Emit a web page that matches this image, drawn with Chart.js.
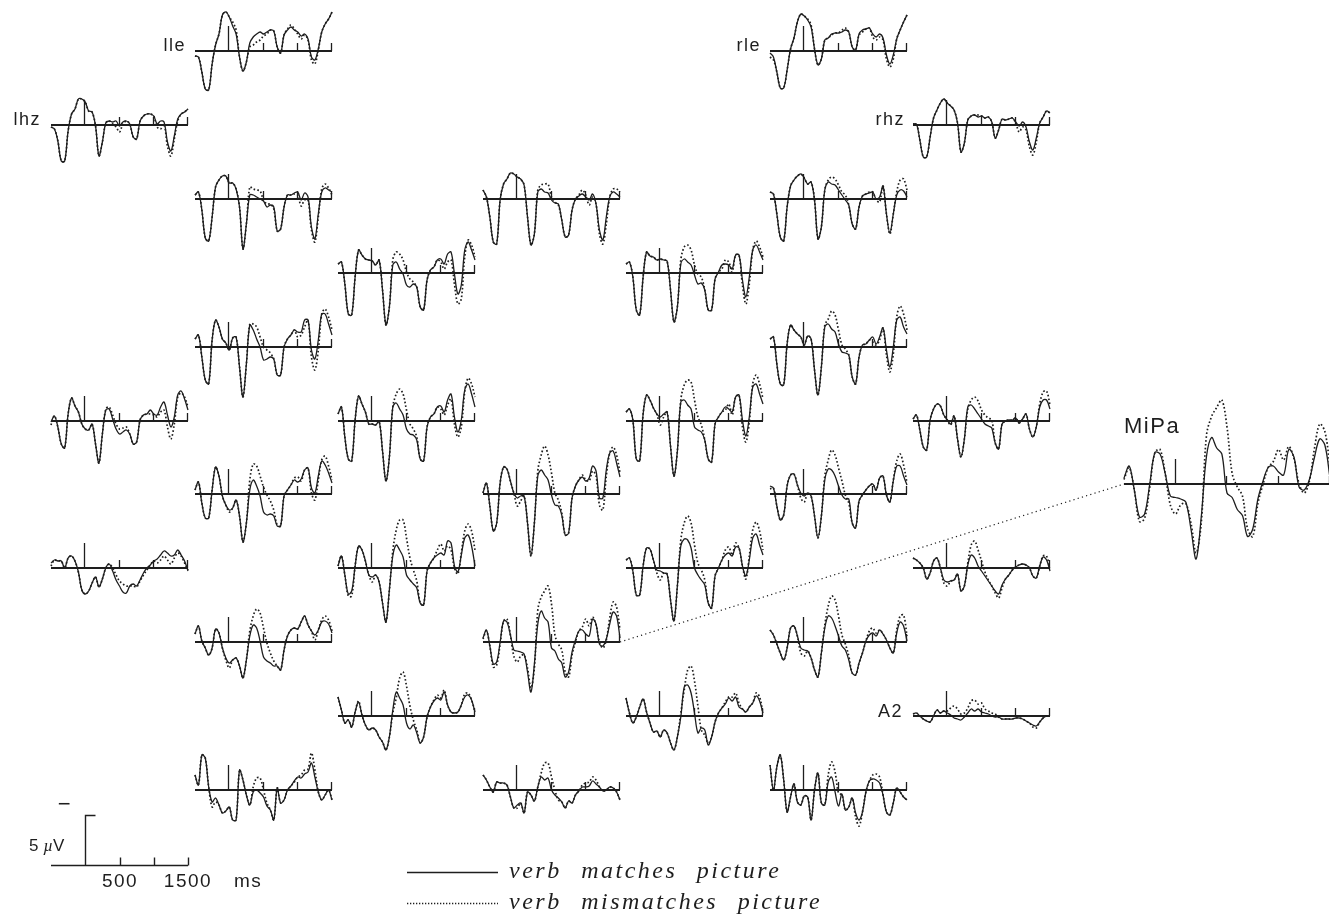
<!DOCTYPE html>
<html>
<head>
<meta charset="utf-8">
<title>ERP: verb matches / mismatches picture</title>
<script src="https://cdn.jsdelivr.net/npm/chart.js@4.4.1/dist/chart.umd.min.js"></script>
<style>
  html, body { margin: 0; padding: 0; background: #fff; }
  #page { position: relative; width: 1329px; height: 914px; overflow: hidden; background: #fff;
          font-family: "Liberation Sans", Arial, Helvetica, sans-serif; color: #1e1e1e; }
  #page canvas { position: absolute; }
  .txt { position: absolute; line-height: 1; white-space: nowrap; }
  .leg { font-family: "Liberation Serif", "DejaVu Serif", serif; font-style: italic; letter-spacing: 2.5px; word-spacing: 11px; }
</style>
</head>
<body>
<div id="page"><canvas id="overlay" width="1329" height="914" style="left:0;top:0"></canvas></div>
<script>
// time axis of every panel (ms), one sample each 50 ms
const timesMs = [-500,-450,-400,-350,-300,-250,-200,-150,-100,-50,0,50,100,150,200,250,300,350,400,450,500,
                 550,600,650,700,750,800,850,900,950,1000,1050,1100,1150,1200,1250,1300,1350,1400,1450,1500];
const tickMs = [0, 500, 1000, 1500];
const scaleBarUv = 5;

// amplitudes in µV (drawn negative up: positive = upward)
const lleMatch    = [-0.5,-0.6,-2.1,-3.8,-3.9,-1.3,0.6,1.7,3.6,3.9,3.4,2.5,1.7,-0.6,-2.0,-1.1,0.8,1.4,1.7,1.9,1.7,1.9,2.1,2.0,0.4,-0.2,1.6,2.1,2.4,2.1,1.9,1.5,1.7,1.2,-0.6,-0.9,0.2,1.9,2.7,3.2,3.9];
const lleMismatch = [-0.5,-0.6,-2.1,-3.8,-3.9,-1.3,0.6,1.7,3.6,3.9,3.4,2.9,2.1,-0.6,-2.0,-1.1,0.4,0.6,0.9,1.1,1.5,1.7,2.1,2.0,0.4,-0.2,1.6,2.2,2.6,2.2,1.7,1.2,1.6,1.1,-0.9,-1.3,0.1,1.9,2.7,3.2,3.9];
const rleMatch    = [-0.2,-0.6,-2.1,-3.7,-3.7,-1.9,0.2,1.3,2.9,3.7,3.5,3.1,2.4,0.2,-1.4,-0.8,1.1,1.3,1.7,1.8,1.8,1.9,2.1,1.9,0.4,0.1,1.7,2.1,2.2,2.3,1.7,1.4,1.7,1.3,-0.4,-1.3,-0.4,1.2,2.1,2.9,3.6];
const rleMismatch = [-0.6,-0.9,-2.1,-3.7,-3.7,-1.9,0.2,1.3,2.9,3.7,3.5,3.2,2.6,0.2,-1.4,-0.8,1.1,1.3,1.6,1.8,1.8,2.1,2.3,1.9,0.4,0.1,1.6,1.9,2.2,2.3,1.4,1.1,1.4,1.1,-0.8,-1.6,-0.8,1.2,2.1,2.9,3.6];
const lhzMatch    = [-0.2,-0.4,-1.6,-3.6,-3.6,-0.6,1.1,1.6,2.6,2.6,2.3,1.4,1.3,-0.1,-3.1,-1.7,0.2,0.4,0.3,0.4,-0.1,0.3,0.4,0.1,-1.2,-1.4,0.4,0.9,1.1,1.1,0.9,0.1,0.4,0.3,-1.7,-2.6,-1.1,0.6,1.1,1.3,1.6];
const lhzMismatch = [-0.2,-0.4,-1.6,-3.6,-3.6,-0.6,1.1,1.6,2.6,2.6,2.3,1.4,1.3,-0.1,-3.1,-1.7,0.2,0.4,0.1,-0.2,-0.7,0.1,0.4,0.1,-1.2,-1.4,0.4,0.9,1.1,1.1,0.9,-0.2,-0.4,0.1,-2.1,-3.1,-1.4,0.4,1.1,1.3,1.6];
const rhzMatch    = [0.1,0.1,-1.5,-3.2,-3.2,-1.2,0.7,1.5,2.2,2.6,2.2,1.9,1.5,0.2,-2.7,-1.8,0.5,0.9,1.0,0.8,0.9,0.7,0.8,0.3,-1.3,-0.5,0.6,0.5,0.6,0.7,0.3,-0.1,0.3,-0.2,-1.7,-2.5,-1.3,0.2,0.8,1.4,1.2];
const rhzMismatch = [0.1,0.1,-1.5,-3.2,-3.2,-1.2,0.7,1.5,2.2,2.6,2.2,1.9,1.5,0.2,-2.7,-1.8,0.5,0.9,1.0,1.0,0.9,0.7,0.8,0.3,-1.3,-0.5,0.6,0.5,0.6,0.7,0.2,-0.7,-0.2,-0.5,-2.2,-3.0,-1.7,0.2,0.8,1.4,1.2];
const s05Match    = [0.4,0.7,-1.1,-3.9,-4.2,-1.8,1.2,1.9,2.3,2.3,1.6,1.6,1.0,-0.8,-5.0,-2.5,0.4,0.4,0.2,0.0,-0.2,-0.8,-0.6,-0.8,-3.2,-3.0,-0.8,0.4,0.4,0.6,0.7,-0.1,0.6,0.2,-2.8,-4.0,-1.5,0.7,1.1,0.9,0.7];
const s05Mismatch = [0.4,0.7,-1.1,-3.9,-4.2,-1.8,1.2,1.9,2.3,2.3,1.6,1.6,1.0,-0.8,-5.0,-2.5,1.2,1.0,0.9,0.8,-0.1,-0.5,-0.5,-1.0,-3.2,-3.0,-0.8,0.4,0.4,0.5,0.4,-0.7,-0.1,-0.1,-3.1,-4.3,-1.8,1.0,1.5,1.1,0.4];
const s06Match    = [0.9,0.2,-1.8,-4.3,-4.5,-0.1,1.5,2.0,2.6,2.5,2.2,2.0,1.4,-1.8,-4.6,-3.5,0.7,1.0,0.7,0.6,-0.1,-0.4,-0.5,-2.1,-3.8,-3.6,-1.1,0.0,0.3,0.5,0.2,-0.1,0.5,-0.5,-3.1,-4.1,-1.8,0.2,0.7,0.5,0.2];
const s06Mismatch = [0.9,0.2,-1.8,-4.3,-4.5,-0.1,1.5,2.0,2.6,2.5,2.2,2.0,1.4,-1.8,-4.6,-3.5,0.9,1.4,1.5,1.5,0.2,-0.3,-0.6,-2.1,-3.8,-3.6,-1.1,0.0,0.4,0.9,0.4,-0.6,0.2,-0.5,-3.5,-4.5,-2.5,0.2,1.0,1.0,0.7];
const s07Match    = [0.7,0.5,-1.5,-3.8,-4.2,-0.8,1.3,1.9,2.3,2.5,2.1,1.5,1.7,-0.1,-4.0,-2.8,0.9,1.7,1.5,1.4,0.9,0.4,-0.1,-0.6,-2.5,-3.0,-0.8,0.3,0.5,0.6,0.7,0.0,0.2,1.3,-1.5,-3.4,-1.5,0.4,0.9,0.8,0.2];
const s07Mismatch = [0.7,0.5,-1.5,-3.8,-4.2,-0.8,1.3,1.9,2.3,2.5,2.1,1.5,1.7,-0.1,-4.0,-2.8,0.9,1.9,2.2,2.0,1.4,0.7,0.4,-0.6,-2.5,-3.0,-0.8,0.3,0.5,0.7,0.7,-0.1,-0.3,1.3,-1.5,-3.5,-1.5,0.7,1.9,2.0,0.9];
const s08Match    = [0.9,1.1,-1.1,-4.1,-4.2,-0.4,2.3,1.8,1.4,1.3,1.2,0.8,1.3,-1.7,-5.2,-3.4,0.8,1.1,0.4,-0.1,-1.2,-1.4,-1.1,-1.4,-3.4,-3.7,-0.7,0.3,0.6,1.3,1.4,0.9,1.9,2.1,-0.1,-2.1,-1.2,2.3,3.1,2.3,1.3];
const s08Mismatch = [0.9,1.1,-1.1,-4.1,-4.2,-0.4,2.3,1.8,1.4,1.3,1.2,0.8,1.3,-1.7,-5.2,-3.4,1.3,2.1,1.9,1.3,0.1,-0.6,-0.9,-1.4,-3.4,-3.7,-0.7,0.3,0.6,1.3,1.1,0.4,1.1,1.3,-1.1,-3.1,-2.6,1.6,3.3,2.8,1.6];
const s09Match    = [0.9,1.1,-0.4,-3.7,-4.2,-0.4,2.1,1.7,1.6,1.3,1.4,1.3,1.2,-1.7,-4.9,-3.4,0.9,1.4,1.1,0.8,-0.2,-1.1,-1.0,-1.7,-3.7,-3.7,-0.6,0.1,0.8,0.9,0.8,0.4,1.8,1.8,-0.7,-2.4,-0.4,2.3,2.8,2.1,1.3];
const s09Mismatch = [0.9,1.1,-0.4,-3.7,-4.2,-0.4,2.1,1.7,1.6,1.3,1.4,1.3,1.2,-1.7,-4.9,-3.4,1.3,2.6,2.8,2.3,0.8,-0.1,-0.4,-1.7,-3.7,-3.7,-0.6,0.1,0.4,1.3,1.1,0.1,1.8,1.8,-1.2,-3.1,-1.1,2.3,3.2,2.6,1.6];
const s10Match    = [0.8,1.2,-1.0,-3.3,-3.7,0.7,2.7,2.0,0.8,0.4,-0.3,0.9,1.0,-2.0,-5.0,-1.7,2.2,1.7,0.8,0.0,-1.3,-1.2,-1.0,-1.2,-2.8,-2.8,0.0,0.8,1.2,1.7,1.5,1.5,2.7,2.7,-0.3,-1.2,0.7,3.3,3.3,2.3,1.2];
const s10Mismatch = [0.8,1.2,-1.0,-3.3,-3.7,0.7,2.7,2.0,0.8,0.4,-0.3,0.9,1.0,-2.0,-5.0,-1.7,2.3,2.3,2.0,1.0,0.0,-0.3,-0.6,-1.2,-2.8,-2.8,0.0,0.8,1.2,1.7,1.0,1.2,2.0,2.7,-1.0,-2.3,-0.3,3.3,3.8,3.0,1.7];
const s11Match    = [0.8,1.0,-1.7,-3.7,-3.8,0.3,2.2,1.7,1.3,1.0,0.2,1.1,0.8,-2.3,-4.8,-2.0,2.0,2.3,1.8,1.5,0.3,-0.5,-0.6,-0.8,-3.0,-3.7,-1.0,0.2,0.3,0.7,1.0,0.3,1.0,1.9,-0.3,-2.0,0.0,2.7,3.0,2.0,1.3];
const s11Mismatch = [0.8,1.0,-1.7,-3.7,-3.8,0.3,2.2,1.7,1.3,1.0,0.2,1.1,0.8,-2.3,-4.8,-2.0,2.2,2.8,3.6,3.2,1.7,0.2,-0.2,-0.8,-3.0,-3.7,-1.0,0.2,0.3,0.7,0.5,0.2,0.7,1.9,-0.8,-2.5,-0.7,3.0,4.1,3.3,1.7];
const s12Match    = [-0.1,0.5,-0.6,-2.3,-2.7,0.7,2.3,1.5,0.9,-0.3,-0.8,-0.9,-0.3,-2.3,-4.2,-1.3,1.1,1.2,0.2,-0.8,-1.3,-1.1,-0.9,-1.3,-2.3,-2.1,0.1,0.6,0.7,1.1,0.7,0.6,1.4,1.9,0.6,-0.6,0.4,2.6,3.0,2.2,1.1];
const s12Mismatch = [-0.4,0.5,-0.6,-2.3,-2.7,0.7,2.3,1.5,0.9,-0.3,-0.8,-0.9,-0.3,-2.3,-4.2,-1.3,1.2,1.4,0.6,-0.3,-0.8,-0.7,-0.6,-1.3,-2.3,-2.1,0.1,0.6,0.7,0.7,0.6,0.4,0.9,1.1,-0.6,-1.8,-0.3,2.4,2.8,2.4,1.4];
const s13Match    = [0.7,1.4,-1.6,-3.8,-4.0,0.1,2.5,1.7,0.9,-0.3,-0.3,-0.4,0.0,-3.0,-6.0,-3.6,1.4,1.8,1.2,0.6,-0.8,-1.3,-1.4,-1.9,-3.8,-4.0,-0.6,0.4,0.7,1.4,1.5,0.9,2.1,2.7,0.4,-1.1,0.1,3.1,3.7,2.7,1.4];
const s13Mismatch = [0.7,1.4,-1.6,-3.8,-4.0,0.1,2.5,1.7,0.9,-0.3,-0.3,-0.4,0.0,-3.0,-6.0,-3.6,1.4,2.7,3.2,2.7,1.1,-0.3,-0.8,-1.6,-3.8,-4.0,-0.6,0.4,0.7,1.4,1.2,0.6,1.6,2.2,-0.3,-1.6,-0.6,2.9,4.3,3.7,2.4];
const s14Match    = [0.9,1.2,0.1,-3.8,-4.0,0.7,2.6,2.1,1.3,0.7,0.4,0.7,0.9,-2.5,-5.5,-3.0,1.9,2.1,1.6,1.2,-0.6,-0.9,-1.1,-1.9,-3.8,-4.1,-0.3,0.4,0.9,1.4,1.2,0.9,2.4,2.6,0.1,-1.5,0.4,3.4,3.7,2.7,1.7];
const s14Mismatch = [0.9,1.2,0.1,-3.8,-4.0,0.7,2.6,2.1,1.3,0.7,-0.4,0.4,0.9,-2.5,-5.5,-3.0,2.1,3.6,4.1,3.9,2.1,0.4,-0.4,-1.9,-3.8,-4.1,-0.3,0.4,0.9,1.1,1.7,0.6,2.4,2.6,-0.6,-2.1,-0.1,3.7,4.6,3.7,2.2];
const s15Match    = [0.2,0.6,-0.9,-2.6,-2.9,0.1,1.2,1.7,1.5,0.6,0.1,-0.3,0.5,-1.8,-3.6,-1.8,1.4,1.6,1.2,0.7,0.2,-0.3,-0.5,-0.7,-2.2,-2.8,-0.3,0.0,0.1,0.1,0.3,-0.2,0.2,0.7,-0.8,-1.6,-0.6,1.4,2.1,2.1,1.2];
const s15Mismatch = [0.2,0.6,-0.9,-2.6,-2.9,0.1,1.2,1.7,1.5,0.6,0.1,-0.4,0.5,-1.8,-3.6,-1.8,1.2,2.1,2.4,2.0,1.1,0.6,0.3,0.1,-2.2,-2.8,-0.3,0.0,0.1,0.1,0.3,-0.2,0.2,0.7,-0.8,-1.6,-0.6,1.7,2.9,3.0,1.6];
const s16Match    = [0.4,1.2,-0.9,-2.4,-2.4,0.4,2.7,1.8,-0.2,-1.1,-1.6,-1.4,-0.6,-2.2,-4.8,-2.9,0.4,1.4,0.8,-0.2,-1.8,-2.1,-2.0,-2.2,-3.2,-3.2,-0.2,0.4,0.9,1.4,1.2,1.5,2.4,2.6,0.6,0.1,1.8,3.3,2.9,2.1,1.1];
const s16Mismatch = [0.4,1.2,-0.9,-2.4,-2.4,0.4,2.7,1.8,-0.2,-1.1,-1.8,-1.4,-0.6,-2.2,-4.8,-2.9,1.4,3.0,2.8,1.8,0.7,-0.1,-0.7,-1.6,-3.1,-3.2,-0.2,0.4,0.9,1.6,1.7,1.3,2.4,2.6,0.1,-0.6,1.4,3.4,3.8,2.8,1.4];
const s17Match    = [0.1,1.1,-1.2,-3.7,-2.9,1.1,2.7,2.5,1.3,0.1,-0.4,-0.2,-0.2,-2.9,-6.2,-2.9,1.8,2.4,1.9,1.4,-0.1,-1.1,-1.2,-2.1,-4.1,-3.9,-0.4,0.8,1.4,1.7,1.3,1.6,2.8,2.3,-0.4,-0.4,2.4,4.1,4.3,3.1,1.7];
const s17Mismatch = [0.1,1.1,-1.2,-3.7,-2.9,1.1,2.7,2.5,1.3,0.1,-1.2,-0.7,-0.2,-2.9,-6.2,-2.9,2.3,3.9,4.8,3.9,2.1,0.1,-0.6,-1.9,-4.1,-3.9,-0.4,0.8,1.4,1.9,1.4,1.3,2.3,1.8,-1.1,-1.6,1.8,4.1,4.7,3.9,2.1];
const s18Match    = [0.8,0.6,-1.2,-2.6,-2.1,0.8,1.9,2.0,0.9,0.1,-0.2,0.1,-0.2,-2.2,-4.4,-2.2,1.4,2.5,2.4,1.8,0.8,-0.1,-0.5,-0.5,-2.9,-3.4,-0.7,-0.1,0.4,0.8,1.0,0.4,1.6,1.8,-0.1,-0.8,1.3,2.8,2.8,1.8,0.9];
const s18Mismatch = [0.5,0.6,-1.2,-2.6,-2.1,0.8,1.9,2.0,0.9,-0.4,-0.8,0.1,-0.2,-2.2,-4.4,-2.2,1.8,3.4,4.4,3.9,2.6,1.3,-0.1,-0.9,-2.9,-3.4,-0.7,-0.1,0.4,0.8,1.0,0.4,1.6,1.8,-0.1,-0.8,1.4,3.3,4.0,2.9,1.1];
const s19Match    = [0.5,0.8,0.7,0.7,0.0,1.0,1.2,0.7,-0.4,-2.2,-2.6,-2.3,-1.5,-0.9,-1.9,-1.1,0.0,0.4,-0.3,-1.2,-1.8,-2.4,-2.5,-1.8,-1.6,-1.8,-1.2,-0.5,0.0,0.3,0.7,0.9,1.3,1.7,1.5,1.2,1.3,1.8,1.3,0.7,-0.3];
const s19Mismatch = [0.2,0.8,0.7,0.7,0.0,1.0,1.2,0.7,-0.4,-2.2,-2.6,-2.3,-1.5,-0.9,-1.9,-1.1,0.0,0.4,0.0,-0.7,-1.3,-1.6,-1.8,-1.8,-1.8,-1.9,-1.3,-0.7,-0.2,0.3,0.7,0.5,0.8,1.2,0.8,0.4,1.0,1.5,1.2,0.5,-0.2];
const s20Match    = [0.2,1.2,-0.7,-2.6,-2.3,0.2,2.2,1.8,0.7,-0.7,-0.9,-0.7,-1.4,-3.5,-5.4,-2.2,1.2,2.3,1.8,1.1,-0.7,-1.2,-1.6,-2.0,-3.5,-3.7,-0.3,0.5,1.0,1.3,1.5,1.3,2.7,2.5,0.2,-0.4,1.3,3.0,3.3,2.2,0.2];
const s20Mismatch = [0.2,1.2,-0.7,-2.8,-2.8,0.2,2.2,1.8,0.7,-0.7,-1.4,-0.7,-1.4,-3.5,-5.4,-2.2,1.7,3.8,4.8,4.8,3.0,1.0,-0.2,-1.3,-3.5,-3.7,-0.3,0.5,1.0,1.8,2.4,1.7,2.2,1.8,0.0,-0.6,1.5,3.7,4.4,3.7,1.8];
const s21Match    = [0.8,1.0,-0.3,-2.7,-2.7,0.2,2.0,1.9,0.8,-0.2,-0.3,-0.5,-0.6,-3.2,-5.3,-1.8,2.2,2.9,2.8,2.0,0.0,-0.7,-1.2,-1.7,-3.5,-4.0,-0.8,0.0,0.8,1.3,1.5,1.2,2.1,2.0,0.2,-0.8,0.8,3.0,3.4,2.3,1.3];
const s21Mismatch = [0.8,1.0,-0.3,-2.7,-2.7,0.2,2.0,1.9,0.8,-0.5,-1.2,-0.5,-0.6,-3.2,-5.3,-1.8,2.8,4.5,5.2,4.5,2.3,0.5,-0.2,-1.2,-3.5,-4.0,-0.8,0.0,0.8,1.8,2.1,1.3,2.5,2.0,0.2,-1.1,1.2,3.8,4.6,3.7,1.8];
const s22Match    = [1.0,0.8,0.5,0.0,-1.1,-0.5,0.7,1.0,0.0,-1.2,-1.4,-1.3,-1.2,-0.6,-2.3,-1.8,0.3,1.3,1.0,0.2,-0.3,-0.8,-1.3,-1.8,-2.3,-2.6,-1.7,-1.1,-0.7,-0.2,0.1,0.3,0.4,0.3,0.0,-0.8,-1.0,0.2,1.1,0.8,-0.3];
const s22Mismatch = [1.0,0.8,0.5,0.0,-1.1,-0.5,0.7,1.0,0.0,-1.5,-1.8,-1.3,-1.2,-0.6,-2.3,-1.8,0.5,2.3,2.7,1.8,0.7,-0.4,-1.2,-1.8,-2.5,-3.0,-2.0,-1.1,-0.7,-0.2,0.1,0.3,0.4,0.3,0.0,-0.8,-1.0,0.2,1.2,1.2,-0.3];
const s23Match    = [0.8,1.6,0.1,-0.6,-1.3,-0.6,1.3,0.9,-0.6,-1.6,-2.1,-1.8,-1.6,-2.4,-3.6,-1.8,0.6,1.7,1.4,0.1,-1.5,-1.9,-2.1,-2.4,-2.4,-2.8,-0.8,0.6,1.2,1.4,1.3,2.0,2.6,1.7,1.1,0.7,1.2,2.0,2.1,1.8,0.9];
const s23Mismatch = [0.8,1.6,0.1,-0.6,-1.3,-0.6,1.3,0.9,-0.6,-1.8,-2.6,-1.8,-1.6,-2.4,-3.6,-1.8,1.1,2.6,3.3,2.9,1.4,-0.1,-1.1,-1.9,-2.4,-2.8,-0.8,0.6,1.2,1.4,1.3,2.0,2.6,1.7,1.1,0.2,1.2,2.2,2.6,2.2,1.1];
const miPaMatch    = [0.4,1.2,-0.4,-2.2,-2.0,0.0,2.1,2.0,0.7,-0.8,-0.9,-1.0,-1.2,-3.0,-5.0,-2.2,1.8,3.1,2.4,2.0,-0.6,-0.9,-1.7,-2.1,-3.5,-3.0,-1.0,0.2,1.1,1.2,0.8,0.6,2.3,1.8,-0.2,-0.4,0.3,1.8,3.0,2.6,0.4];
const miPaMismatch = [0.3,1.1,-0.4,-2.5,-2.3,-0.2,2.1,2.3,0.7,-1.4,-2.0,-1.4,-1.3,-2.6,-4.6,-2.6,3.2,4.5,5.1,5.6,3.8,0.7,-0.2,-0.8,-3.0,-3.5,-1.3,0.0,1.1,1.5,2.3,1.6,2.5,1.7,0.0,-0.6,0.2,2.4,4.0,3.5,1.2];
const s25Match    = [1.2,0.7,-0.2,-1.1,-1.8,-0.6,1.4,1.6,0.6,-0.6,-0.8,-0.9,-1.6,-2.8,-3.5,-1.1,1.4,2.6,2.4,1.6,0.6,-0.4,-0.8,-1.8,-3.1,-3.3,-2.1,-1.1,0.1,0.7,0.9,0.6,1.2,0.8,0.2,-0.6,-1.1,0.9,2.0,1.6,0.1];
const s25Mismatch = [1.2,0.7,-0.2,-1.1,-1.8,-0.6,1.4,1.6,0.6,-1.1,-1.4,-0.9,-1.6,-2.8,-3.5,-1.1,1.7,3.6,4.6,4.2,2.6,0.7,-0.2,-1.4,-3.1,-3.3,-2.1,-1.1,0.1,1.1,1.4,0.9,1.2,0.8,0.2,-0.6,-1.1,1.2,2.6,2.7,0.6];
const s26Match    = [1.9,0.6,-0.7,-0.4,-1.1,0.4,1.4,0.1,-0.9,-1.4,-1.2,-1.4,-2.1,-2.6,-3.4,-2.1,0.6,2.4,1.8,1.1,-0.7,-1.3,-0.9,-1.7,-2.7,-2.1,-0.1,0.9,1.5,1.8,1.6,2.4,1.1,0.4,0.3,0.4,1.1,1.9,2.1,1.6,0.4];
const s26Mismatch = [1.9,0.6,-0.7,-0.4,-1.1,0.4,1.5,0.1,-0.9,-1.4,-1.2,-1.4,-2.1,-2.6,-3.4,-2.1,0.3,1.8,3.8,4.4,3.0,1.0,-0.4,-1.4,-2.7,-2.1,-0.1,0.9,1.6,2.1,1.8,2.6,1.1,0.4,0.3,0.4,1.1,2.2,2.3,1.6,0.4];
const s27Match    = [1.8,0.3,-0.7,-0.1,0.9,1.7,0.4,-0.7,-1.6,-1.5,-2.1,-1.4,-1.7,-2.7,-3.4,-2.1,-0.1,2.9,3.1,2.3,0.3,-1.7,-1.2,-1.4,-2.9,-2.1,-0.6,0.3,0.8,1.2,1.8,1.5,1.9,0.9,0.7,0.4,0.9,1.3,2.0,1.5,0.3];
const s27Mismatch = [1.8,0.3,-0.7,-0.1,0.9,1.7,0.4,-0.7,-1.6,-1.5,-2.1,-1.4,-1.7,-2.7,-3.4,-2.1,0.3,2.6,4.6,5.0,3.5,1.0,-1.4,-1.9,-2.7,-2.1,-0.6,0.3,0.8,1.4,1.9,1.9,2.3,1.3,0.7,0.4,0.9,1.3,2.3,1.9,0.3];
const a2Match     = [0.2,0.3,0.0,-0.3,-0.5,-0.6,0.0,0.6,0.3,0.5,0.3,0.1,-0.2,-0.3,-0.4,-0.1,0.3,0.7,0.5,0.7,0.4,0.3,0.2,0.0,-0.1,-0.1,-0.3,-0.3,-0.3,-0.3,-0.2,-0.2,-0.3,-0.5,-0.7,-0.9,-1.0,-0.6,-0.2,0.0,0.0];
const a2Mismatch  = [0.2,0.3,0.0,-0.3,-0.5,-0.6,0.0,0.6,0.3,0.5,0.5,0.8,1.0,0.7,0.2,0.3,0.8,1.5,1.6,1.2,1.3,0.7,0.5,0.3,0.2,-0.1,-0.3,-0.3,-0.3,-0.3,-0.2,-0.2,-0.3,-0.5,-0.7,-1.1,-1.2,-0.6,-0.2,0.0,0.0];
const s29Match    = [1.5,0.5,3.5,3.2,0.3,-1.2,-0.8,-1.5,-2.3,-2.1,-1.7,-3.0,-3.0,2.0,1.0,-0.5,-1.5,-0.2,0.0,-0.3,-0.7,-1.6,-2.0,-3.0,0.2,-1.3,-1.0,0.0,0.4,0.9,1.3,1.2,1.6,1.8,2.7,1.3,-0.2,-1.0,-0.5,0.0,-1.0];
const s29Mismatch = [1.5,0.5,3.5,3.2,0.3,-1.7,-1.2,-1.5,-2.3,-2.1,-1.7,-3.0,-3.0,2.0,1.0,-0.5,-1.5,0.3,1.2,1.2,0.0,-1.3,-2.0,-3.0,0.2,-1.3,-1.0,0.0,0.4,0.8,1.3,1.5,2.0,2.1,3.7,2.0,-0.2,-1.0,-0.5,0.0,-1.0];
const s30Match    = [1.5,1.0,0.3,-0.2,0.8,0.7,0.7,0.5,-0.7,-1.8,-1.5,-1.3,-2.3,-0.2,-0.5,-1.1,0.3,1.3,1.0,1.2,0.0,-0.5,-0.8,-1.2,-1.8,-1.1,-1.3,-0.5,-0.1,0.3,0.3,0.4,0.9,0.6,0.3,-0.1,0.0,0.3,0.2,-0.2,-1.0];
const s30Mismatch = [1.5,1.0,0.3,-0.2,0.8,0.7,0.7,0.5,-0.7,-1.8,-1.8,-1.3,-2.3,-0.2,-0.5,-1.1,0.3,1.7,2.7,2.7,1.3,0.0,-1.0,-1.2,-1.8,-1.1,-1.3,-0.5,-0.1,0.5,0.7,0.8,1.3,1.0,0.3,-0.1,0.0,0.3,0.2,-0.2,-1.0];
const s31Match    = [2.5,0.0,2.3,3.5,1.0,-2.2,-0.7,0.6,-1.2,-1.5,-0.6,-0.7,-3.0,0.0,1.7,-1.3,-1.5,0.8,1.3,-0.2,-1.6,-0.4,-2.0,-1.7,-0.8,-2.3,-3.0,-2.2,-0.2,0.9,1.1,1.0,0.7,-0.5,-2.2,-2.5,-1.3,0.2,-0.2,-0.7,-1.0];
const s31Mismatch = [2.5,0.0,2.3,3.5,1.0,-2.2,-0.7,0.6,-1.2,-1.5,-0.6,-0.7,-3.0,0.0,1.7,-1.3,-1.5,1.5,2.8,1.8,-0.3,-0.5,-2.0,-1.7,-0.8,-2.7,-3.6,-2.2,-0.2,0.9,1.5,1.6,1.3,-0.5,-2.2,-2.5,-1.3,0.2,-0.2,-0.7,-1.0];

// where each electrode sits on the page (left edge of the -500 ms point, baseline y)
const panelLayout = [
    { match: lleMatch, mismatch: lleMismatch, left: 195, base: 51 },
    { match: rleMatch, mismatch: rleMismatch, left: 770, base: 51 },
    { match: lhzMatch, mismatch: lhzMismatch, left: 51,  base: 125 },
    { match: rhzMatch, mismatch: rhzMismatch, left: 913, base: 125 },
    { match: s05Match, mismatch: s05Mismatch, left: 195, base: 199 },
    { match: s06Match, mismatch: s06Mismatch, left: 483, base: 199 },
    { match: s07Match, mismatch: s07Mismatch, left: 770, base: 199 },
    { match: s08Match, mismatch: s08Mismatch, left: 338, base: 273 },
    { match: s09Match, mismatch: s09Mismatch, left: 626, base: 273 },
    { match: s10Match, mismatch: s10Mismatch, left: 195, base: 347 },
    { match: s11Match, mismatch: s11Mismatch, left: 770, base: 347 },
    { match: s12Match, mismatch: s12Mismatch, left: 51,  base: 421 },
    { match: s13Match, mismatch: s13Mismatch, left: 338, base: 421 },
    { match: s14Match, mismatch: s14Mismatch, left: 626, base: 421 },
    { match: s15Match, mismatch: s15Mismatch, left: 913, base: 421 },
    { match: s16Match, mismatch: s16Mismatch, left: 195, base: 494 },
    { match: s17Match, mismatch: s17Mismatch, left: 483, base: 494 },
    { match: s18Match, mismatch: s18Mismatch, left: 770, base: 494 },
    { match: s19Match, mismatch: s19Mismatch, left: 51,  base: 568 },
    { match: s20Match, mismatch: s20Mismatch, left: 338, base: 568 },
    { match: s21Match, mismatch: s21Mismatch, left: 626, base: 568 },
    { match: s22Match, mismatch: s22Mismatch, left: 913, base: 568 },
    { match: s23Match, mismatch: s23Mismatch, left: 195, base: 642 },
    { match: miPaMatch, mismatch: miPaMismatch, left: 483, base: 642, source: true },
    { match: s25Match, mismatch: s25Mismatch, left: 770, base: 642 },
    { match: s26Match, mismatch: s26Mismatch, left: 338, base: 716 },
    { match: s27Match, mismatch: s27Mismatch, left: 626, base: 716 },
    { match: a2Match,  mismatch: a2Mismatch,  left: 913, base: 716 },
    { match: s29Match, mismatch: s29Mismatch, left: 195, base: 790 },
    { match: s30Match, mismatch: s30Mismatch, left: 483, base: 790 },
    { match: s31Match, mismatch: s31Mismatch, left: 770, base: 790 }
];
const miPaLayout = { match: miPaMatch, mismatch: miPaMismatch, left: 1124, base: 484, scale: 1.5 };

const textLabels = [
    { text: 'lle',  x: 186,  y: 51,  size: 18, align: 'right' },
    { text: 'rle',  x: 761,  y: 51,  size: 18, align: 'right' },
    { text: 'lhz',  x: 41,   y: 125, size: 18, align: 'right' },
    { text: 'rhz',  x: 905,  y: 125, size: 18, align: 'right' },
    { text: 'A2',   x: 903,  y: 717, size: 18, align: 'right' },
    { text: 'MiPa', x: 1124, y: 434, size: 22, align: 'left' },
    { text: '500',  x: 120,  y: 887, size: 19, align: 'center' },
    { text: '1500', x: 188,  y: 887, size: 19, align: 'center' },
    { text: 'ms',   x: 234,  y: 887, size: 19, align: 'left' },
    { text: '\u2212', x: 65, y: 812, size: 22, align: 'center' }
];

const ink = '#1e1e1e';
const page = document.getElementById('page');

// baseline + stimulus-onset tick + 500 ms ticks
const erpAxes = {
    id: 'erpAxes',
    beforeDatasetsDraw(chart, args, opts) {
        const ctx = chart.ctx;
        const x = chart.scales.x, y = chart.scales.y;
        const y0 = Math.round(y.getPixelForValue(0));
        ctx.save();
        ctx.strokeStyle = ink;
        ctx.lineWidth = 2;
        ctx.beginPath();
        ctx.moveTo(x.getPixelForValue(timesMs[0]), y0);
        ctx.lineTo(x.getPixelForValue(timesMs[timesMs.length - 1]), y0);
        ctx.stroke();
        ctx.lineWidth = 1.3;
        tickMs.forEach(t => {
            const px = Math.round(x.getPixelForValue(t)) - 0.5;
            ctx.beginPath();
            ctx.moveTo(px, y0);
            ctx.lineTo(px, y0 - (t === 0 ? opts.onsetLen : opts.tickLen));
            ctx.stroke();
        });
        ctx.restore();
    }
};

function makePanel(p) {
    const scale = p.scale || 1;
    const pxPerUv = 10 * scale;
    const up = p.scale ? 6.6 : 6.5, down = p.scale ? 6.0 : 7.0;
    const pad = 4;
    const canvas = document.createElement('canvas');
    canvas.width = Math.round(137 * scale) + 2 * pad;
    canvas.height = Math.round((up + down) * pxPerUv);
    canvas.style.left = (p.left - pad) + 'px';
    canvas.style.top = (p.base - up * pxPerUv) + 'px';
    page.appendChild(canvas);

    new Chart(canvas, {
        type: 'line',
        data: {
            datasets: [{
                label: 'verb matches picture',
                data: timesMs.map((t, i) => ({ x: t, y: p.match[i] })),
                borderColor: ink,
                borderWidth: 1.3,
                pointRadius: 0,
                tension: 0.35,
                clip: false
            }, {
                label: 'verb mismatches picture',
                data: timesMs.map((t, i) => ({ x: t, y: p.mismatch[i] })),
                borderColor: ink,
                borderWidth: 1.7,
                borderDash: [1.6, 2.2],
                pointRadius: 0,
                tension: 0.35,
                clip: false
            }]
        },
        options: {
            responsive: false,
            animation: false,
            devicePixelRatio: 1,
            events: [],
            layout: { padding: { left: pad, right: pad, top: 0, bottom: 0 } },
            scales: {
                x: { type: 'linear', min: -500, max: 1500, display: false },
                y: { type: 'linear', min: -down, max: up, display: false }
            },
            plugins: {
                legend: { display: false },
                tooltip: { enabled: false },
                erpAxes: { onsetLen: 25, tickLen: 8 }
            }
        },
        plugins: [erpAxes]
    });
}

panelLayout.forEach(p => {
    if (p.match.length !== timesMs.length || p.mismatch.length !== timesMs.length) {
        console.error('length mismatch', p);
    }
    makePanel(p);
});
makePanel(miPaLayout);

// calibration bar: -500..1500 ms axis and 5 µV
const scaleBar = {
    id: 'scaleBar',
    afterDraw(chart) {
        const ctx = chart.ctx;
        const x = chart.scales.x, y = chart.scales.y;
        const y0 = Math.round(y.getPixelForValue(0)) + 0.5;
        const xz = Math.round(x.getPixelForValue(0)) + 0.5;
        const yTop = Math.round(y.getPixelForValue(scaleBarUv)) + 0.5;
        ctx.save();
        ctx.strokeStyle = ink;
        ctx.lineWidth = 1.4;
        ctx.beginPath();
        ctx.moveTo(x.getPixelForValue(-500), y0);
        ctx.lineTo(x.getPixelForValue(1500), y0);
        ctx.moveTo(xz, y0);
        ctx.lineTo(xz, yTop);
        ctx.lineTo(xz + 10, yTop);
        tickMs.slice(1).forEach(t => {
            const px = Math.round(x.getPixelForValue(t)) + 0.5;
            ctx.moveTo(px, y0);
            ctx.lineTo(px, y0 - 8);
        });
        ctx.stroke();
        ctx.restore();
    }
};
(function () {
    const canvas = document.createElement('canvas');
    canvas.width = 145; canvas.height = 75;
    canvas.style.left = '47px'; canvas.style.top = '800px';
    page.appendChild(canvas);
    new Chart(canvas, {
        type: 'line',
        data: { datasets: [{ data: [] }] },
        options: {
            responsive: false, animation: false, devicePixelRatio: 1, events: [],
            layout: { padding: { left: 4, right: 4, top: 0, bottom: 0 } },
            scales: {
                x: { type: 'linear', min: -500, max: 1500, display: false },
                y: { type: 'linear', min: -1, max: 6.5, display: false }
            },
            plugins: { legend: { display: false }, tooltip: { enabled: false } }
        },
        plugins: [scaleBar]
    });
})();

// text labels
textLabels.forEach(l => {
    const d = document.createElement('div');
    d.className = 'txt';
    d.textContent = l.text;
    d.style.fontSize = l.size + 'px';
    d.style.letterSpacing = '1.5px';
    d.style.top = (l.y - 0.846 * l.size) + 'px';
    if (l.align === 'right') d.style.right = (1329 - l.x) + 'px';
    else if (l.align === 'center') { d.style.left = l.x + 'px'; d.style.transform = 'translateX(-50%)'; }
    else d.style.left = l.x + 'px';
    page.appendChild(d);
});
(function () {
    const d = document.createElement('div');
    d.className = 'txt';
    d.style.fontSize = '17px';
    d.style.left = '29px';
    d.style.top = (851 - 0.846 * 17) + 'px';
    d.innerHTML = '5 <i style="font-family:\'Liberation Serif\',serif">\u00b5</i>V';
    page.appendChild(d);
})();

// legend
const legendItems = [
    { text: 'verb matches picture', y: 872, dash: [] },
    { text: 'verb mismatches picture', y: 903, dash: [1.3, 1.7] }
];
const octx = document.getElementById('overlay').getContext('2d');
octx.strokeStyle = ink;
legendItems.forEach(item => {
    octx.save();
    octx.lineWidth = item.dash.length ? 1.4 : 1.3;
    octx.setLineDash(item.dash);
    octx.beginPath();
    octx.moveTo(407, item.y + 0.5);
    octx.lineTo(498, item.y + 0.5);
    octx.stroke();
    octx.restore();
    const d = document.createElement('div');
    d.className = 'txt leg';
    d.textContent = item.text;
    d.style.fontSize = '24px';
    d.style.left = '509px';
    d.style.top = (item.y + 6 - 0.838 * 24) + 'px';
    page.appendChild(d);
});

// dotted connector from the source electrode to the enlarged MiPa panel
const src = panelLayout.find(p => p.source);
octx.save();
octx.lineWidth = 1.2;
octx.setLineDash([1.2, 3.2]);
octx.beginPath();
octx.moveTo(src.left + 137, src.base);
octx.lineTo(miPaLayout.left, miPaLayout.base);
octx.stroke();
octx.restore();
</script>
</body>
</html>
